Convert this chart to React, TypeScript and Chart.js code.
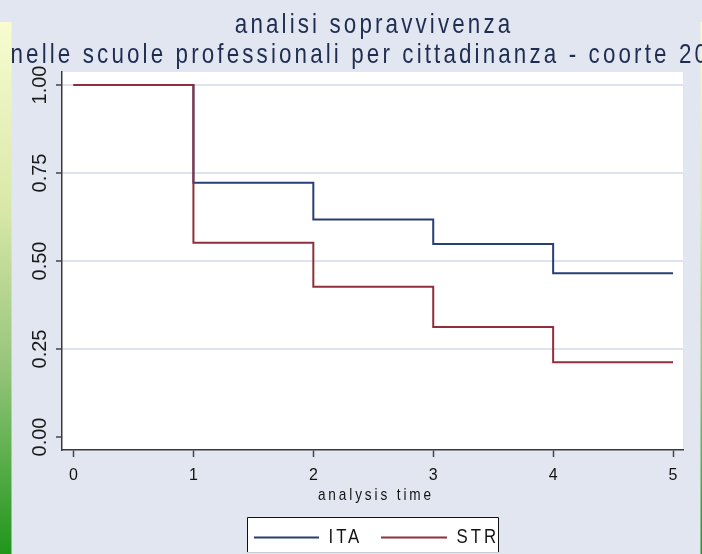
import React, { useEffect, useRef } from "react";
import { Chart, registerables } from "chart.js";

Chart.register(...registerables);

// ---- data ----
const times = [0, 1, 2, 3, 4, 5];
const itaSurvival = [1, 0.722, 0.618, 0.548, 0.465, 0.465];
const strSurvival = [1, 0.552, 0.427, 0.3125, 0.212, 0.212];
const seriesNames = ["ITA", "STR"];
const xTickValues = [0, 1, 2, 3, 4, 5];
const yTickValues = [0, 0.25, 0.5, 0.75, 1];
const yTickLabels = ["0.00", "0.25", "0.50", "0.75", "1.00"];
const titleLines = [
  "analisi sopravvivenza",
  "nelle scuole professionali per cittadinanza - coorte 20",
];
const xAxisTitle = "analysis time";

const FONT = '"Liberation Sans", Arial, sans-serif';
const BG = "#e1e6f0";
const ITA_COLOR = "#263f74";
const STR_COLOR = "#8f2f3b";

function drawText(
  ctx: CanvasRenderingContext2D,
  text: string,
  x: number,
  y: number,
  size: number,
  sx: number,
  ls: number,
  align: "left" | "center",
  color: string
) {
  ctx.save();
  ctx.translate(x, y);
  ctx.scale(sx, 1);
  ctx.font = `${size}px ${FONT}`;
  (ctx as any).letterSpacing = `${ls}px`;
  ctx.fillStyle = color;
  ctx.textBaseline = "alphabetic";
  ctx.textAlign = "left";
  const w = ctx.measureText(text).width - ls;
  const sx0 = align === "center" ? -w / 2 : 0;
  ctx.fillText(text, sx0, 0);
  ctx.restore();
}

const decorPlugin = {
  id: "decor",
  beforeDraw(chart: any) {
    const ctx: CanvasRenderingContext2D = chart.ctx;
    const { width, height, chartArea } = chart;
    ctx.save();
    ctx.fillStyle = BG;
    ctx.fillRect(0, 0, width, height);
    // left gradient strip
    const g = ctx.createLinearGradient(0, 22, 0, height);
    g.addColorStop(0, "#f8fcd0");
    g.addColorStop(0.35, "#d9e8a8");
    g.addColorStop(0.65, "#95c57a");
    g.addColorStop(1, "#20961b");
    ctx.fillStyle = g;
    ctx.fillRect(0, 22, 11.5, height - 22);
    // right thin strip
    ctx.fillRect(700.5, 22, 1.5, height - 22);
    // plot region
    ctx.fillStyle = "#ffffff";
    ctx.fillRect(
      chartArea.left,
      chartArea.top,
      chartArea.right - chartArea.left,
      chartArea.bottom - chartArea.top
    );
    ctx.restore();
  },
  afterDraw(chart: any) {
    const ctx: CanvasRenderingContext2D = chart.ctx;
    const yScale = chart.scales.y;
    const xScale = chart.scales.x;
    const area = chart.chartArea;
    const titleColor = "#1f2d52";
    const center = (area.left + area.right) / 2;

    // titles
    drawText(ctx, titleLines[0], center, 33, 28, 0.8, 3.9, "center", titleColor);
    drawText(ctx, titleLines[1], 10.5, 63, 28, 0.8, 3.9, "left", titleColor);

    // y tick labels (rotated)
    ctx.save();
    ctx.font = `20px ${FONT}`;
    ctx.fillStyle = "#1a1a1a";
    ctx.textAlign = "center";
    ctx.textBaseline = "middle";
    yTickValues.forEach((v, i) => {
      const py = yScale.getPixelForValue(v);
      ctx.save();
      ctx.translate(40, py);
      ctx.rotate(-Math.PI / 2);
      ctx.fillText(yTickLabels[i], 0, 0);
      ctx.restore();
    });
    ctx.restore();

    // x axis title
    drawText(ctx, xAxisTitle, (xScale.left + xScale.right) / 2 + 2, 500, 17, 0.8, 3.6, "center", "#141414");

    // legend
    ctx.save();
    ctx.fillStyle = "#ffffff";
    ctx.fillRect(247, 517, 252, 35);
    ctx.strokeStyle = "#111111";
    ctx.lineWidth = 1;
    ctx.beginPath();
    ctx.moveTo(247.5, 552);
    ctx.lineTo(247.5, 517.5);
    ctx.lineTo(498.5, 517.5);
    ctx.lineTo(498.5, 552);
    ctx.stroke();
    ctx.strokeStyle = "#c8ccd4";
    ctx.beginPath();
    ctx.moveTo(247, 552.5);
    ctx.lineTo(499, 552.5);
    ctx.stroke();
    const legendItems = [
      { name: seriesNames[0], color: ITA_COLOR, x0: 254, x1: 319, tx: 328.5 },
      { name: seriesNames[1], color: STR_COLOR, x0: 381, x1: 447, tx: 456.5 },
    ];
    legendItems.forEach((it) => {
      ctx.strokeStyle = it.color;
      ctx.lineWidth = 2;
      ctx.beginPath();
      ctx.moveTo(it.x0, 537.5);
      ctx.lineTo(it.x1, 537.5);
      ctx.stroke();
    });
    ctx.restore();
    ctx.save();
    ctx.beginPath();
    ctx.rect(247, 517, 251, 36);
    ctx.clip();
    legendItems.forEach((it) => {
      drawText(ctx, it.name, it.tx, 543, 21, 0.8, 3.7, "left", "#141414");
    });
    ctx.restore();
  },
};

export default function App() {
  const ref = useRef<HTMLCanvasElement | null>(null);

  useEffect(() => {
    if (!ref.current) return;
    const chart = new Chart(ref.current, {
      type: "line",
      data: {
        datasets: [
          {
            label: seriesNames[0],
            data: times.map((t, i) => ({ x: t, y: itaSurvival[i] })),
            borderColor: ITA_COLOR,
            borderWidth: 2,
            stepped: "before",
            pointRadius: 0,
            fill: false,
            order: 1,
          },
          {
            label: seriesNames[1],
            data: times.map((t, i) => ({ x: t, y: strSurvival[i] })),
            borderColor: STR_COLOR,
            borderWidth: 2,
            stepped: "before",
            pointRadius: 0,
            fill: false,
            order: 0,
          },
        ],
      },
      options: {
        animation: false,
        responsive: false,
        maintainAspectRatio: false,
        layout: { padding: { left: 0, top: 72, right: 19, bottom: 0 } },
        plugins: {
          legend: { display: false },
          title: { display: false },
          tooltip: { enabled: false },
        },
        scales: {
          x: {
            type: "linear",
            min: -0.096,
            max: 5.083,
            afterBuildTicks: (s: any) => {
              s.ticks = xTickValues.map((v) => ({ value: v }));
            },
            afterFit: (s: any) => {
              s.height = 104;
            },
            ticks: {
              autoSkip: false,
              maxRotation: 0,
              minRotation: 0,
              padding: 9,
              color: "#141414",
              font: { family: FONT, size: 16 },
              callback: (v: any) => String(v),
            },
            grid: {
              drawOnChartArea: false,
              drawTicks: true,
              tickLength: 7,
              tickColor: "#444444",
              tickWidth: 1.5,
            },
            border: { display: true, color: "#3a3a3a", width: 1.5 },
          },
          y: {
            type: "linear",
            min: -0.037,
            max: 1.037,
            afterBuildTicks: (s: any) => {
              s.ticks = yTickValues.map((v) => ({ value: v }));
            },
            afterFit: (s: any) => {
              s.width = 62;
            },
            ticks: { display: false },
            grid: {
              color: (c: any) =>
                c.tick && c.tick.value === 0 ? "rgba(0,0,0,0)" : "#dde3ee",
              lineWidth: 2,
              drawTicks: true,
              tickLength: 6,
              tickColor: "#444444",
              tickWidth: 1.5,
            },
            border: { display: true, color: "#3a3a3a", width: 1.5 },
          },
        },
      },
      plugins: [decorPlugin],
    } as any);
    return () => chart.destroy();
  }, []);

  return (
    <div style={{ position: "absolute", left: 0, top: 0, width: 702, height: 554 }}>
      <canvas ref={ref} width={702} height={554} style={{ display: "block" }} />
    </div>
  );
}
